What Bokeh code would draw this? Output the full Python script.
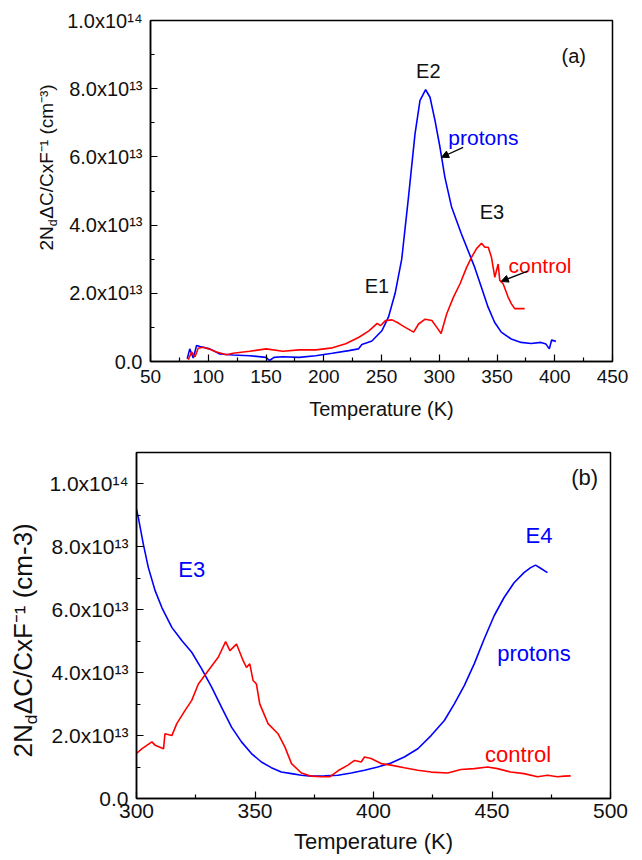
import numpy as np
from bokeh.plotting import figure
from bokeh.layouts import column, row
from bokeh.models import Range1d, FixedTicker, CustomJSTickFormatter, Arrow, NormalHead
from bokeh.core.properties import value
from bokeh.embed import file_html
from bokeh.resources import INLINE

FONT = "Liberation Sans"
BLUE = "#0000ff"
RED = "#ff0000"
INK = "#111111"

# ---------------- Panel (a) data (values in units of 1e13 cm^-3) ----------------
a_protons_T = [81.8, 84, 87, 89.9, 92.8, 101.4, 110, 121.5, 135.8, 150, 153, 157, 164.4, 178.7,
               193, 207.4, 221.7, 230, 233, 241.7, 250.3, 256, 261.8, 267.5, 273.3, 279, 283.3,
               288.2, 292, 296.3, 300.6, 304.9, 310.6, 319.2, 325, 330.7, 336.5, 342.2, 347.9,
               353.7, 362.3, 370.9, 379.5, 388.1, 392.4, 395.3, 397.3, 401]
a_protons_v = [0.08, 0.37, 0.1, 0.47, 0.44, 0.37, 0.22, 0.19, 0.17, 0.12, 0.03, 0.12, 0.14, 0.12,
               0.17, 0.24, 0.32, 0.37, 0.5, 0.6, 0.9, 1.3, 2.0, 3.0, 4.8, 6.67, 7.65,
               7.97, 7.75, 7.07, 6.29, 5.4, 4.54, 3.74, 3.25, 2.76, 2.18, 1.6, 1.15,
               0.86, 0.66, 0.56, 0.53, 0.56, 0.51, 0.37, 0.63, 0.59]

a_control_T = [82.7, 85.6, 88.5, 91.3, 95.6, 101.4, 107.1, 115.7, 121.5, 135.8, 150.2, 164.5,
               178.8, 193.2, 207.5, 219, 230.5, 239.1, 246.3, 249.1, 253.4, 259.2, 264.9, 270.6,
               277.8, 282.1, 287.8, 293.6, 297.9, 301.6, 306.5, 312.2, 318, 323.7, 328, 332.3,
               336.6, 339.5, 342.4, 345.2, 348.1, 351, 352.4, 355.3, 359.6, 362.5, 365.3, 369.6,
               373.9]
a_control_v = [0.05, 0.28, 0.14, 0.39, 0.42, 0.36, 0.28, 0.2, 0.24, 0.3, 0.37, 0.3,
               0.34, 0.34, 0.4, 0.52, 0.71, 0.9, 1.12, 1.05, 1.2, 1.22, 1.12, 1.0,
               0.86, 1.1, 1.24, 1.2, 1.0, 0.82, 1.4, 1.88, 2.28, 2.76, 3.06, 3.31,
               3.47, 3.35, 3.35, 3.06, 2.47, 2.86, 2.38, 2.28, 1.89, 1.69, 1.55, 1.55,
               1.55]

a_xticks = [50, 100, 150, 200, 250, 300, 350, 400, 450]
a_xminor = [75, 125, 175, 225, 275, 325, 375, 425]
a_yticks = [0, 2, 4, 6, 8, 10]
a_yminor = [1, 3, 5, 7, 9]
a_ytick_labels = ["0.0", "2.0x10\u00b9\u00b3", "4.0x10\u00b9\u00b3", "6.0x10\u00b9\u00b3",
                  "8.0x10\u00b9\u00b3", "1.0x10\u00b9\u2074"]

# ---------------- Panel (b) data ----------------
b_protons_T = [300, 300.8, 302.9, 305, 307.9, 310.7, 314.9, 319.1, 323.3, 327.5, 331.7, 335.9,
               340.1, 344.3, 348.5, 352.7, 356.9, 361.1, 365.4, 369.6, 373.8, 379.4, 385, 390.6,
               396.2, 401.8, 407.4, 413, 418.7, 424.3, 429.9, 434.1, 438.3, 442.5, 446.7, 450.9,
               455.1, 459.3, 463.5, 466.3, 468.4, 470.5, 473.4]
b_protons_v = [9.19, 8.92, 8.08, 7.34, 6.6, 6.07, 5.44, 5.02, 4.65, 4.12, 3.54, 2.9,
               2.27, 1.8, 1.43, 1.16, 0.98, 0.84, 0.79, 0.74, 0.71, 0.72, 0.74, 0.81,
               0.9, 1.0, 1.13, 1.32, 1.58, 2.0, 2.48, 3.01, 3.59, 4.28, 5.07, 5.81,
               6.39, 6.86, 7.18, 7.34, 7.42, 7.32, 7.18]

b_control_T = [300, 302.2, 306.5, 307.9, 311.4, 312, 314.9, 317, 320.5, 323.3, 326.1, 330.3,
               334.5, 337.6, 339.4, 342.2, 345, 346.4, 347.8, 349.2, 350.6, 352, 355.5, 359.7,
               362.6, 365.4, 369.6, 373.8, 378, 381.5, 385, 389.2, 392, 394.8, 396.2, 399,
               403.2, 407.4, 413, 418.7, 424.3, 431.3, 436.9, 442.5, 448.1, 452.3, 457.9, 463.5,
               469.2, 473.4, 477.6, 480.5, 483.2]
b_control_v = [1.43, 1.58, 1.8, 1.69, 1.58, 2.06, 2.0, 2.38, 2.8, 3.12, 3.64, 4.07,
               4.49, 4.99, 4.7, 4.91, 4.38, 4.17, 4.28, 3.75, 3.64, 3.01, 2.38, 2.06,
               1.64, 1.11, 0.81, 0.71, 0.69, 0.69, 0.88, 1.06, 1.21, 1.16, 1.32, 1.27,
               1.11, 1.06, 0.98, 0.9, 0.84, 0.81, 0.92, 0.95, 1.0, 0.95, 0.84, 0.79,
               0.69, 0.74, 0.69, 0.71, 0.72]

b_xticks = [300, 350, 400, 450, 500]
b_xminor = [325, 375, 425, 475]
b_yticks = [0, 2, 4, 6, 8, 10]
b_yminor = [1, 3, 5, 7, 9]
b_ytick_labels = a_ytick_labels


def tick_fmt(vals, labs):
    return CustomJSTickFormatter(args=dict(vals=vals, labs=labs),
                                 code="const i = vals.indexOf(tick); return i >= 0 ? labs[i] : '';")


def make_fig(w, h, xr, yr, bl, br, bt, bb, xt, xm, yt, ym, ylabs,
             xtick_size, ytick_size, xlab_size, xstand, xlstand):
    p = figure(width=w, height=h, x_range=Range1d(*xr), y_range=Range1d(*yr),
               output_backend="svg", toolbar_location=None,
               min_border_left=bl, min_border_right=br, min_border_top=bt, min_border_bottom=bb)
    p.xgrid.visible = False
    p.ygrid.visible = False
    p.outline_line_color = "black"
    p.outline_line_width = 1.5
    p.outline_line_alpha = 1.0
    p.background_fill_color = "white"
    p.border_fill_color = "white"
    xa, ya = p.xaxis[0], p.yaxis[0]
    xa.ticker = FixedTicker(ticks=xt, minor_ticks=xm)
    ya.ticker = FixedTicker(ticks=yt, minor_ticks=ym)
    ya.formatter = tick_fmt(yt, ylabs)
    for ax in (xa, ya):
        ax.axis_line_width = 1.5
        ax.axis_line_color = "black"
        ax.major_tick_in = 7
        ax.major_tick_out = 0
        ax.minor_tick_in = 4
        ax.minor_tick_out = 0
        ax.major_tick_line_width = 1.2
        ax.minor_tick_line_width = 1.2
        ax.major_tick_line_color = "black"
        ax.minor_tick_line_color = "black"
        ax.major_label_text_font = FONT
        ax.major_label_text_color = INK
    xa.major_label_text_font_size = f"{xtick_size}px"
    ya.major_label_text_font_size = f"{ytick_size}px"
    ya.major_label_standoff = 8
    xa.major_label_standoff = xstand
    xa.axis_label = "Temperature (K)"
    xa.axis_label_text_font = FONT
    xa.axis_label_text_font_size = f"{xlab_size}px"
    xa.axis_label_text_font_style = "normal"
    xa.axis_label_text_color = INK
    xa.axis_label_standoff = xlstand
    return p


def label_fig(w, h, bt, bb, xc, y0, s, main):
    """Narrow figure holding the rotated y-axis title; its frame matches the panel frame
    vertically and spans the full width, coordinates in pixels."""
    fh = h - bt - bb
    q = figure(width=w, height=h, x_range=Range1d(0, w), y_range=Range1d(0, fh),
               output_backend="svg", toolbar_location=None,
               x_axis_location=None, y_axis_location=None,
               min_border_left=0, min_border_right=0, min_border_top=bt, min_border_bottom=bb)
    q.xgrid.visible = False
    q.ygrid.visible = False
    q.outline_line_color = None
    q.background_fill_color = "white"
    q.border_fill_color = "white"
    w2N = (0.556 + 0.722) * s
    sd = 0.66 * s
    wd = 0.556 * sd
    pieces = [("2N", s, 0.0, 0.0), ("d", sd, w2N, 0.32 * s), (main, s, w2N + wd + 0.5, 0.0)]
    for txt, size, off, shift in pieces:
        q.text(x=[xc + shift], y=[y0 + off], text=[txt], angle=np.pi / 2,
               text_font=value(FONT), text_font_size=value(f"{size:.1f}px"),
               text_align="left", text_baseline="middle", text_color=INK)
    return q


def add_texts(p, xs, ys, texts, colors, size):
    p.text(x=xs, y=ys, text=texts, text_color=colors, text_font=value(FONT),
           text_font_size=value(f"{size}px"), text_align="center", text_baseline="middle")


# ---------------- Panel (a) ----------------
HA = 427
A_TOP, A_FH = 20, 341
A_BOT = HA - A_TOP - A_FH
LA_W = 64
pa = make_fig(642 - LA_W, HA, (50, 450), (0, 10), 147 - LA_W, 30, A_TOP, A_BOT,
              a_xticks, a_xminor, a_yticks, a_yminor, a_ytick_labels, 19, 20, 20, 8, 12)
pa.line(a_protons_T, a_protons_v, line_color=BLUE, line_width=1.6)
pa.line(a_control_T, a_control_v, line_color=RED, line_width=1.6)
add_texts(pa, [416.5, 290.5, 345.6, 246.1], [8.97, 8.53, 4.37, 2.2], ["(a)", "E2", "E3", "E1"],
          [INK] * 4, 20)
add_texts(pa, [338.2], [6.57], ["protons"], [BLUE], 21)
add_texts(pa, [387.2], [2.82], ["control"], [RED], 21)
for xs, ys, xe, ye in [(320.7, 6.28, 302.0, 5.99), (376.6, 2.65, 353.7, 2.35)]:
    pa.add_layout(Arrow(end=NormalHead(size=7, fill_color="black", line_color="black", line_width=1),
                        x_start=xs, y_start=ys, x_end=xe, y_end=ye,
                        line_color="black", line_width=1.2))
la = label_fig(LA_W, HA, A_TOP, A_BOT, 46, (A_TOP + A_FH) - 250, 19,
               "\u0394C/CxF\u207b\u00b9 (cm\u207b\u00b3)")

# ---------------- Panel (b) ----------------
HB = 860 - HA
B_TOP, B_FH = 452 - HA, 346
B_BOT = HB - B_TOP - B_FH
LB_W = 46
pb = make_fig(642 - LB_W, HB, (300, 500), (0, 11), 135 - LB_W, 32, B_TOP, B_BOT,
              b_xticks, b_xminor, b_yticks, b_yminor, b_ytick_labels, 21, 21, 22, 5, 8)
pb.line(b_protons_T, b_protons_v, line_color=BLUE, line_width=1.6)
pb.line(b_control_T, b_control_v, line_color=RED, line_width=1.6)
add_texts(pb, [489.1], [10.19], ["(b)"], [INK], 22)
add_texts(pb, [469.8, 323.3, 467.7], [8.37, 7.29, 4.61], ["E4", "E3", "protons"], [BLUE] * 3, 22)
add_texts(pb, [461.0], [1.4], ["control"], [RED], 22)
lb = label_fig(LB_W, HB, B_TOP, B_BOT, 22, (B_TOP + B_FH) - (757 - HA), 26,
               "\u0394C/CxF\u207b\u00b9 (cm-3)")

layout = column(row(la, pa), row(lb, pb))
open("out.html", "w").write(file_html(layout, INLINE))
